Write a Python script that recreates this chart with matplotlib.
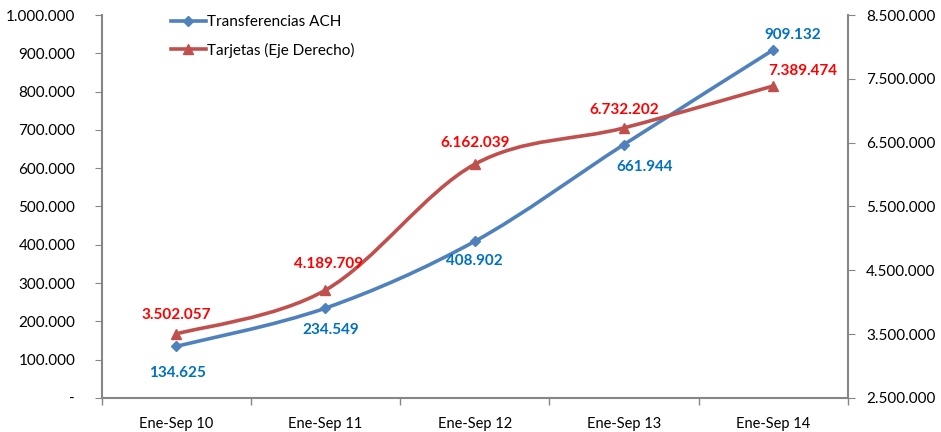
import numpy as np
import matplotlib.pyplot as plt
from matplotlib.path import Path
from matplotlib.patches import PathPatch
from matplotlib.lines import Line2D
from matplotlib.ticker import FuncFormatter

plt.rcParams['font.family'] = ['Lato', 'DejaVu Sans']

categories = ['Ene-Sep 10', 'Ene-Sep 11', 'Ene-Sep 12', 'Ene-Sep 13', 'Ene-Sep 14']
ach = [134625, 234549, 408902, 661944, 909132]
tarjetas = [3502057, 4189709, 6162039, 6732202, 7389474]

blue = '#4F81BD'
red = '#C0504D'
grey = '#868686'


def fmt(v, pos=None):
    if v == 0:
        return '-'
    return f'{v:,.0f}'.replace(',', '.')


def smooth_path(xs, ys):
    # Excel-style smoothed line: cubic Bezier through each point
    pts = np.column_stack([xs, ys]).astype(float)
    n = len(pts)
    verts = [pts[0]]
    codes = [Path.MOVETO]
    for i in range(n - 1):
        p0 = pts[i - 1] if i > 0 else pts[i]
        p1 = pts[i]
        p2 = pts[i + 1]
        p3 = pts[i + 2] if i + 2 < n else pts[i + 1]
        c1 = p1 + (p2 - p0) / 6
        c2 = p2 - (p3 - p1) / 6
        verts += [c1, c2, p2]
        codes += [Path.CURVE4] * 3
    return Path(verts, codes)


fig = plt.figure(figsize=(9.41, 4.32), dpi=100)
ax = fig.add_axes([0.108, 0.079, 0.793, 0.886])
ax2 = ax.twinx()

x = np.arange(len(categories))

ax.set_xlim(-0.5, 4.5)
ax.set_ylim(0, 1000000)
ax2.set_ylim(2500000, 8500000)

ax.add_patch(PathPatch(smooth_path(x, ach), fill=False, edgecolor=blue, lw=2.6, zorder=3))
ax.plot(x, ach, ls='none', marker='D', ms=5.5, color=blue, zorder=4)

ax2.add_patch(PathPatch(smooth_path(x, tarjetas), fill=False, edgecolor=red, lw=2.6, zorder=3))
ax2.plot(x, tarjetas, ls='none', marker='^', ms=7, color=red, zorder=4)

# data labels (offsets in points)
ach_off = [(1, -19), (4, -16), (0, -14), (15, -16), (14, 11)]
tar_off = [(0, 14), (2, 19), (0, 15), (0, 13), (21, 11)]
for i, v in enumerate(ach):
    ax.annotate(fmt(v), (x[i], v), xytext=ach_off[i], textcoords='offset points',
                ha='center', va='center', color='#0070C0', fontsize=11, fontweight='bold')
for i, v in enumerate(tarjetas):
    ax2.annotate(fmt(v), (x[i], v), xytext=tar_off[i], textcoords='offset points',
                 ha='center', va='center', color='#FF0000', fontsize=11, fontweight='bold')

ax.set_xticks(x)
ax.set_xticklabels(categories, fontsize=10.5)
ax.set_xticks(np.arange(-0.5, 5, 1), minor=True)
ax.tick_params(axis='x', which='major', length=0, pad=14)
ax.tick_params(axis='x', which='minor', length=5, color=grey, width=1)

ax.set_yticks(np.arange(0, 1000001, 100000))
ax.yaxis.set_major_formatter(FuncFormatter(fmt))
ax.tick_params(axis='y', length=5, color=grey, labelsize=11, pad=14)

ax2.set_yticks(np.arange(2500000, 8500001, 1000000))
ax2.yaxis.set_major_formatter(FuncFormatter(fmt))
ax2.tick_params(axis='y', length=5, color=grey, labelsize=11, pad=8)

for a in (ax, ax2):
    a.spines['top'].set_visible(False)
    for s in ('left', 'right', 'bottom'):
        a.spines[s].set_color(grey)
        a.spines[s].set_linewidth(1.5)
ax.spines['right'].set_visible(False)
ax2.spines['left'].set_visible(False)
ax2.spines['bottom'].set_visible(False)

handles = [Line2D([], [], color=blue, lw=2.6, marker='D', ms=5),
           Line2D([], [], color=red, lw=2.6, marker='^', ms=6.5)]
ax.legend(handles, ['Transferencias ACH', 'Tarjetas (Eje Derecho)'], loc='upper left',
          bbox_to_anchor=(0.074, 1.035), frameon=False, fontsize=11,
          handlelength=2.3, handletextpad=0.1, labelspacing=0.85)

fig.savefig('out.png', dpi=100)
